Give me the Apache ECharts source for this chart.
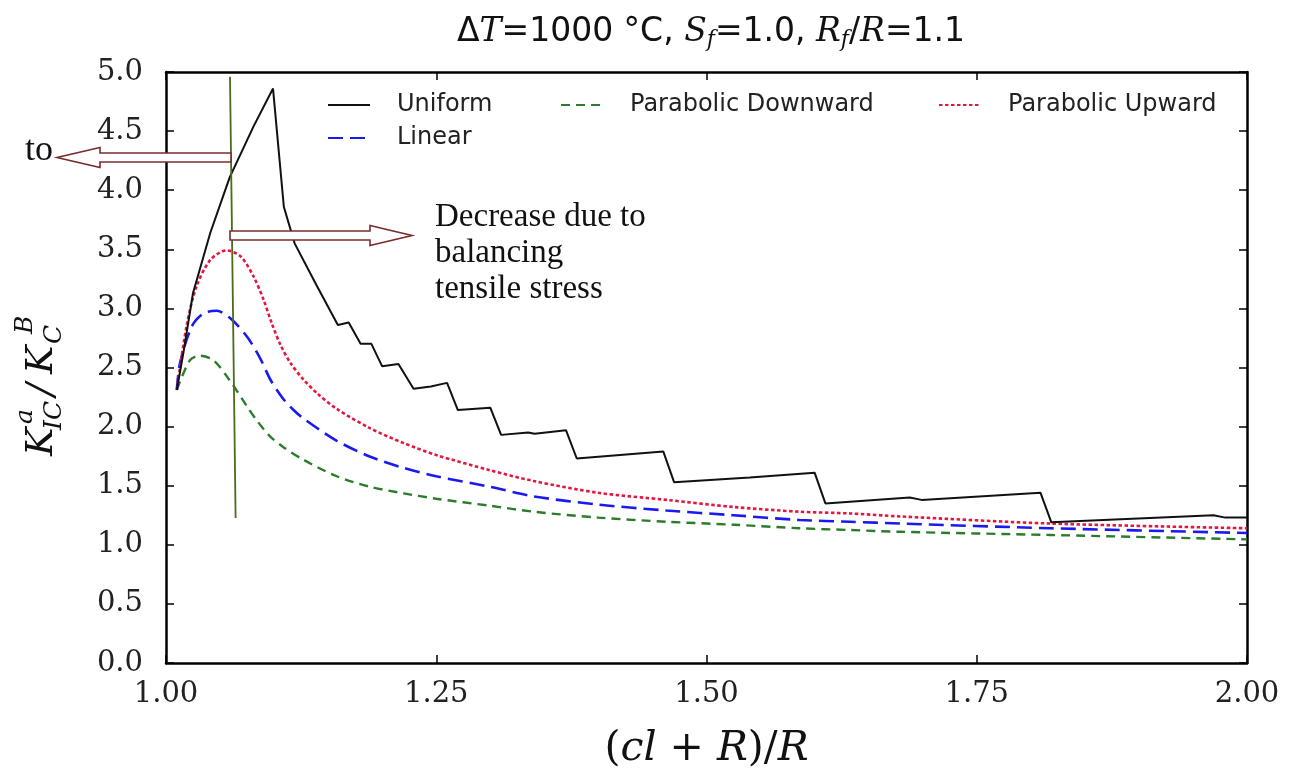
<!DOCTYPE html>
<html>
<head>
<meta charset="utf-8">
<script src="https://cdn.jsdelivr.net/npm/echarts@6/dist/echarts.min.js"></script>
<style>
  html, body { margin: 0; padding: 0; background: #fff; }
  #chart { width: 1299px; height: 784px; }
</style>
</head>
<body>
<div id="chart"></div>
<script>
// axis ticks
var xTicks = [1.00, 1.25, 1.50, 1.75, 2.00];
var yTicks = [0.0, 0.5, 1.0, 1.5, 2.0, 2.5, 3.0, 3.5, 4.0, 4.5, 5.0];

// series values: [ (cl+R)/R , K_IC^a / K_C^B ]
var uniform = [
    [1.010, 2.31], [1.016, 2.62], [1.025, 3.13], [1.041, 3.64], [1.059, 4.11], [1.081, 4.54],
    [1.099, 4.86], [1.109, 3.86], [1.119, 3.55], [1.139, 3.20], [1.159, 2.86], [1.169, 2.88],
    [1.180, 2.70], [1.190, 2.70], [1.200, 2.51], [1.215, 2.53], [1.229, 2.32], [1.245, 2.34],
    [1.260, 2.37], [1.270, 2.14], [1.300, 2.16], [1.310, 1.93], [1.335, 1.95], [1.341, 1.94],
    [1.370, 1.97], [1.380, 1.73], [1.420, 1.76], [1.460, 1.79], [1.470, 1.53], [1.540, 1.57],
    [1.600, 1.61], [1.610, 1.35], [1.688, 1.40], [1.699, 1.38], [1.809, 1.44], [1.819, 1.19],
    [1.969, 1.25], [1.980, 1.23], [2.000, 1.23]
];
var linear = [
    [1.010, 2.31], [1.013, 2.54], [1.024, 2.85], [1.035, 2.96], [1.047, 2.98], [1.059, 2.92],
    [1.075, 2.76], [1.087, 2.58], [1.097, 2.39], [1.108, 2.24], [1.118, 2.14], [1.127, 2.07],
    [1.158, 1.88], [1.189, 1.745], [1.220, 1.65], [1.250, 1.58], [1.300, 1.49], [1.340, 1.41],
    [1.400, 1.34], [1.463, 1.29], [1.525, 1.25], [1.586, 1.21], [1.633, 1.195], [1.679, 1.18],
    [1.818, 1.14], [2.000, 1.10]
];
var paraDown = [
    [1.010, 2.31], [1.022, 2.56], [1.031, 2.60], [1.044, 2.56], [1.059, 2.39], [1.075, 2.17],
    [1.085, 2.04], [1.096, 1.92], [1.108, 1.83], [1.127, 1.72], [1.158, 1.58], [1.189, 1.49],
    [1.220, 1.435], [1.250, 1.39], [1.300, 1.33], [1.340, 1.28], [1.400, 1.23], [1.463, 1.195],
    [1.525, 1.17], [1.586, 1.14], [1.633, 1.125], [1.679, 1.11], [1.818, 1.083], [2.000, 1.046]
];
var paraUp = [
    [1.010, 2.31], [1.019, 2.85], [1.028, 3.18], [1.041, 3.41], [1.056, 3.49], [1.069, 3.44],
    [1.081, 3.27], [1.090, 3.08], [1.098, 2.87], [1.106, 2.69], [1.115, 2.54], [1.127, 2.40],
    [1.140, 2.28], [1.158, 2.15], [1.189, 1.985], [1.220, 1.86], [1.250, 1.76], [1.300, 1.63],
    [1.340, 1.54], [1.400, 1.44], [1.463, 1.38], [1.525, 1.32], [1.586, 1.28], [1.633, 1.265],
    [1.679, 1.24], [1.818, 1.18], [2.000, 1.14]
];
// hand-drawn marker line in the picture
var guide = [[1.0592, 4.96], [1.0644, 1.227]];

var chart = echarts.init(document.getElementById('chart'), null, { renderer: 'canvas' });

var sans = '"DejaVu Sans", sans-serif';
var serif = '"DejaVu Serif", serif';
var times = '"Liberation Serif", "Times New Roman", serif';
var arrowColor = '#7b2c2c';

function axisCommon(pos, showLabel, isX) {
    return {
        type: 'value',
        position: pos,
        min: isX ? 1 : 0,
        max: isX ? 2 : 5,
        interval: isX ? 0.25 : 0.5,
        axisLine: { show: true, onZero: false, lineStyle: { color: '#000', width: 2.5 } },
        axisTick: { show: true, inside: true, length: 8, lineStyle: { color: '#000', width: 1.5 } },
        splitLine: { show: false },
        axisLabel: {
            show: showLabel,
            color: '#222',
            fontFamily: serif,
            fontSize: 29,
            margin: isX ? 17 : 23,
            formatter: function (v) { return isX ? v.toFixed(2) : v.toFixed(1); }
        }
    };
}

var xMain = axisCommon('bottom', true, true);
xMain.name = '{n|(}{i|cl}{n| + }{i|R}{n|)/}{i|R}';
xMain.nameLocation = 'middle';
xMain.nameGap = 66;
xMain.nameTextStyle = {
    rich: {
        n: { fontFamily: serif, fontSize: 41, color: '#111' },
        i: { fontFamily: serif, fontStyle: 'italic', fontSize: 41, color: '#111' }
    }
};

var option = {
    backgroundColor: '#fff',
    animation: false,
    title: {
        left: 706,
        top: 8,
        textAlign: 'center',
        text: '{n|Δ}{i|T}{n|=1000 °C, }{i|S}{s|f}{n|=1.0, }{i|R}{s|f}{n|/}{i|R}{n|=1.1}',
        textStyle: {
            fontWeight: 'normal',
            rich: {
                n: { fontFamily: sans, fontWeight: 'normal', fontSize: 33, color: '#111', lineHeight: 38 },
                i: { fontFamily: serif, fontWeight: 'normal', fontStyle: 'italic', fontSize: 33, color: '#111', lineHeight: 38 },
                s: { fontFamily: serif, fontWeight: 'normal', fontStyle: 'italic', fontSize: 22, color: '#111', lineHeight: 22, verticalAlign: 'bottom' }
            }
        }
    },
    grid: { left: 166, right: 52, top: 72, bottom: 121, containLabel: false },
    legend: [
        {
            data: ['Uniform', 'Linear'],
            orient: 'vertical',
            left: 327, top: 93, padding: 0,
            itemWidth: 42, itemHeight: 14, itemGap: 9,
            itemStyle: { opacity: 0 },
            textStyle: { fontFamily: sans, fontSize: 24, lineHeight: 24, color: '#222', padding: [0, 0, 0, 22] }
        },
        {
            data: ['Parabolic Downward'],
            left: 560, top: 93, padding: 0,
            itemWidth: 42, itemHeight: 14,
            itemStyle: { opacity: 0 },
            textStyle: { fontFamily: sans, fontSize: 24, lineHeight: 24, color: '#222', padding: [0, 0, 0, 22] }
        },
        {
            data: ['Parabolic Upward'],
            left: 938, top: 93, padding: 0,
            itemWidth: 42, itemHeight: 14,
            itemStyle: { opacity: 0 },
            textStyle: { fontFamily: sans, fontSize: 24, lineHeight: 24, color: '#222', padding: [0, 0, 0, 22] }
        }
    ],
    xAxis: [xMain, axisCommon('top', false, true)],
    yAxis: [axisCommon('left', true, false), axisCommon('right', false, false)],
    series: [
        {
            name: 'Uniform', type: 'line', data: uniform, symbol: 'none', z: 5,
            lineStyle: { color: '#111', width: 2, type: 'solid' }, itemStyle: { color: '#111' }
        },
        {
            name: 'Linear', type: 'line', data: linear, symbol: 'none', smooth: 0.3, z: 4,
            lineStyle: { color: '#1a1aee', width: 2.6, type: [15, 7] }, itemStyle: { color: '#1a1aee' }
        },
        {
            name: 'Parabolic Downward', type: 'line', data: paraDown, symbol: 'none', smooth: 0.3, z: 3,
            lineStyle: { color: '#2b7d2b', width: 2.4, type: [9, 6] }, itemStyle: { color: '#2b7d2b' }
        },
        {
            name: 'Parabolic Upward', type: 'line', data: paraUp, symbol: 'none', smooth: 0.3, z: 4,
            lineStyle: { color: '#e3173e', width: 2.6, type: [3.5, 2.5] }, itemStyle: { color: '#e3173e' }
        },
        {
            name: 'guide', type: 'line', data: guide, symbol: 'none', z: 6, silent: true,
            lineStyle: { color: '#4b6b1e', width: 1.8 }
        }
    ],
    graphic: [
        {
            type: 'group', x: 42, y: 386, rotation: Math.PI / 2,
            children: [
                { type: 'text', x: -70, y: 0, style: { text: 'K', font: 'italic 38px ' + serif, fill: '#111', verticalAlign: 'middle' } },
                { type: 'text', x: -38, y: -17, style: { text: 'a', font: 'italic 25px ' + serif, fill: '#111', verticalAlign: 'middle' } },
                { type: 'text', x: -44, y: 12, style: { text: 'IC', font: 'italic 25px ' + serif, fill: '#111', verticalAlign: 'middle' } },
                { type: 'text', x: -10, y: 0, style: { text: '/', font: 'italic 38px ' + serif, fill: '#111', verticalAlign: 'middle' } },
                { type: 'text', x: 12, y: 0, style: { text: 'K', font: 'italic 38px ' + serif, fill: '#111', verticalAlign: 'middle' } },
                { type: 'text', x: 52, y: -17, style: { text: 'B', font: 'italic 25px ' + serif, fill: '#111', verticalAlign: 'middle' } },
                { type: 'text', x: 42, y: 12, style: { text: 'C', font: 'italic 25px ' + serif, fill: '#111', verticalAlign: 'middle' } }
            ]
        },
        {
            type: 'polygon', z: 100,
            shape: { points: [[231, 153], [100, 153], [100, 147.5], [57, 157.5], [100, 167.5], [100, 162], [231, 162]] },
            style: { fill: '#fff', stroke: arrowColor, lineWidth: 1.6 }
        },
        {
            type: 'polygon', z: 100,
            shape: { points: [[230, 231], [370, 231], [370, 225.5], [412, 235.5], [370, 245.5], [370, 240], [230, 240]] },
            style: { fill: '#fff', stroke: arrowColor, lineWidth: 1.6 }
        },
        {
            type: 'text', left: 25, top: 133, z: 100,
            style: { text: 'to', font: '36px ' + times, fill: '#111' }
        },
        {
            type: 'text', left: 435, top: 199, z: 100,
            style: { text: 'Decrease due to\nbalancing\ntensile stress', font: '33px ' + times, fill: '#111', lineHeight: 36 }
        }
    ]
};

chart.setOption(option);
</script>
</body>
</html>
